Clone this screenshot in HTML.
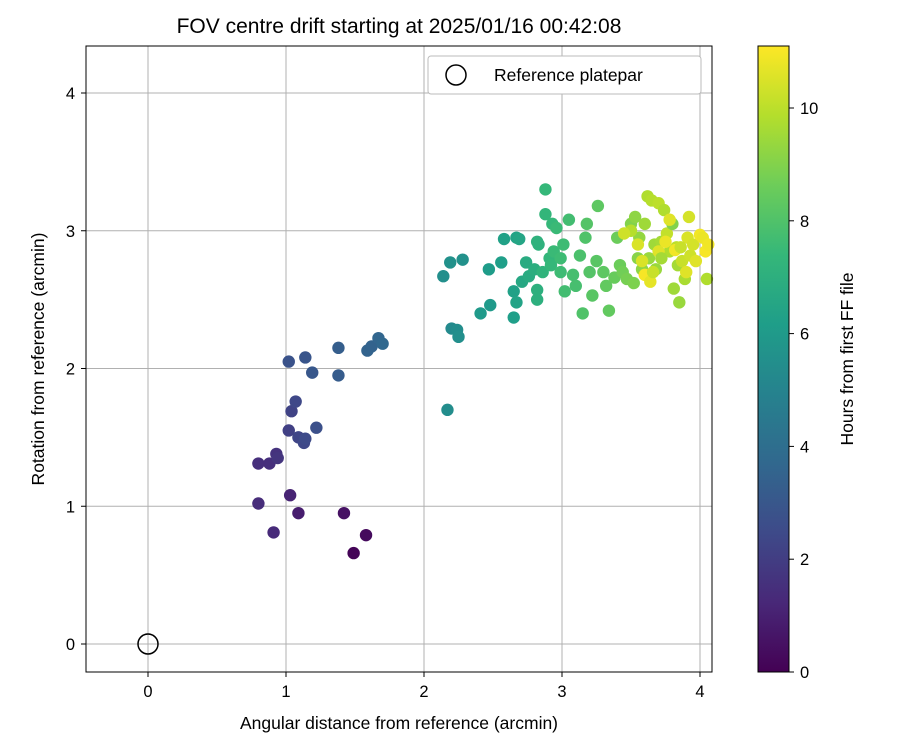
<!DOCTYPE html>
<html><head><meta charset="utf-8"><style>
body{margin:0;background:#fff;}
svg text{font-family:"Liberation Sans",sans-serif;fill:#000;}
</style></head><body>
<svg id="chart" width="900" height="750" xmlns="http://www.w3.org/2000/svg">
<rect width="900" height="750" fill="#fff"/>
<text x="399" y="33" font-size="21" text-anchor="middle">FOV centre drift starting at 2025/01/16 00:42:08</text>
<g id="grid"></g>
<g id="pts"></g>
<rect x="86" y="46" width="626" height="626" fill="none" stroke="#000" stroke-width="1"/>
<g id="ticks"></g>
<text x="399" y="729" font-size="17.5" text-anchor="middle">Angular distance from reference (arcmin)</text>
<text transform="translate(44,359) rotate(-90)" font-size="17.5" text-anchor="middle">Rotation from reference (arcmin)</text>
<g>
<rect x="428" y="56" width="273" height="38" rx="3" fill="#fff" stroke="#bbb"/>
<circle cx="456" cy="75" r="10" fill="none" stroke="#000" stroke-width="1.5"/>
<text x="494" y="81" font-size="17.5">Reference platepar</text>
</g>
<defs><linearGradient id="vir" x1="0" y1="1" x2="0" y2="0"></linearGradient></defs>
<rect x="758" y="46" width="31" height="626" fill="url(#vir)" stroke="#000"/>
<g id="cbticks"></g>
<text transform="translate(853,359) rotate(-90)" font-size="17.5" text-anchor="middle">Hours from first FF file</text>
</svg>
<script>
const xTicks=[0,1,2,3,4];
const yTicks=[0,1,2,3,4];
const cTicks=[0,2,4,6,8,10];
const xs=[1.49,1.58,1.42,1.09,1.03,0.91,0.80,0.80,0.88,0.93,0.94,1.04,1.07,1.02,1.09,1.13,1.14,1.22,1.02,1.14,1.19,1.38,1.38,1.59,1.62,1.67,1.70,
2.17,2.14,2.19,2.20,2.24,2.25,2.28,2.41,2.48,2.47,2.56,2.58,2.65,2.65,2.67,2.67,2.69,2.71,2.74,2.76,2.80,2.82,2.82,2.82,2.83,2.86,2.88,2.88,2.91,2.92,2.93,2.94,2.96,2.99,2.99,3.01,3.02,3.05,3.08,3.10,3.13,3.15,3.17,3.18,3.20,3.22,3.25,3.26,3.30,3.32,3.34,3.38,3.40,3.42,3.44,3.47,3.50,3.52,3.53,3.55,3.56,3.58,3.60,3.62,3.63,3.65,3.67,3.68,3.70,3.72,3.74,3.76,3.78,3.80,3.81,3.83,3.84,3.85,3.87,3.89,3.91,3.93,3.95,3.97,4.00,4.02,4.04,4.05,4.06,3.60,3.64,3.58,3.70,3.75,3.82,3.86,3.90,3.50,3.55,3.45,3.66,3.72,3.78,3.92];
const ys=[0.66,0.79,0.95,0.95,1.08,0.81,1.02,1.31,1.31,1.38,1.35,1.69,1.76,1.55,1.50,1.46,1.49,1.57,2.05,2.08,1.97,1.95,2.15,2.13,2.16,2.22,2.18,
1.70,2.67,2.77,2.29,2.28,2.23,2.79,2.40,2.46,2.72,2.77,2.94,2.56,2.37,2.48,2.95,2.94,2.63,2.77,2.67,2.72,2.50,2.57,2.92,2.90,2.70,3.30,3.12,2.80,2.75,3.05,2.85,3.02,2.80,2.70,2.90,2.56,3.08,2.68,2.60,2.82,2.40,2.95,3.05,2.70,2.53,2.78,3.18,2.70,2.60,2.42,2.66,2.95,2.75,2.70,2.65,3.05,2.62,3.10,2.80,2.95,2.72,3.05,3.25,2.80,3.22,2.90,2.72,3.20,2.92,3.15,2.98,2.85,3.05,2.58,2.88,2.75,2.48,2.78,2.65,2.95,2.82,2.90,2.78,2.97,2.95,2.85,2.65,2.90,2.68,2.63,2.78,2.85,2.92,2.86,2.88,2.70,3.00,2.90,2.98,2.70,2.80,3.08,3.10,2.96,2.86];
const hrs=[0.1,0.3,0.5,0.9,1.1,1.3,1.4,1.5,1.5,1.6,1.7,2.2,2.4,2.1,2.3,2.4,2.5,2.7,2.8,2.9,3.0,3.2,3.3,3.5,3.5,3.6,3.7,
5.4,5.5,5.6,5.3,5.4,5.5,5.6,6.0,6.0,6.1,6.2,6.3,6.3,6.2,6.4,6.4,6.5,6.6,6.8,6.8,6.9,7.0,7.0,7.1,7.1,7.2,7.4,7.3,7.3,7.4,7.4,7.5,7.5,7.6,7.6,7.6,7.7,7.7,7.8,7.8,7.9,8.0,8.0,8.1,8.1,8.2,8.2,8.3,8.3,8.4,8.4,8.5,8.6,8.6,8.7,8.8,9.0,8.9,9.2,9.1,9.3,9.2,9.5,9.8,9.4,9.9,9.5,9.4,10.0,9.6,9.8,10.1,9.8,9.0,9.5,10.0,9.6,9.4,10.2,9.7,10.5,10.3,10.4,10.6,10.9,10.8,11.0,9.8,10.9,11.0,10.7,10.5,10.6,10.8,10.9,10.2,10.6,9.9,10.5,10.3,10.2,9.6,10.6,10.4];
const X=v=>148+(v)*138, Y=v=>644-v*137.75, C=v=>672-v*56.4;
const vir=[[68,1,84],[72,40,120],[62,74,137],[49,104,142],[38,130,142],[31,158,137],[53,183,121],[109,205,89],[180,222,44],[253,231,37]];
function vcol(h){let t=Math.max(0,Math.min(1,h/11.1))*(vir.length-1);let i=Math.min(vir.length-2,Math.floor(t)),f=t-i;
return 'rgb('+vir[i].map((c,k)=>Math.round(c+(vir[i+1][k]-c)*f)).join(',')+')';}
const NS='http://www.w3.org/2000/svg';
function mk(p,tag,a){const e=document.createElementNS(NS,tag);for(const k in a)e.setAttribute(k,a[k]);p.appendChild(e);return e;}
const grid=document.getElementById('grid'),ticks=document.getElementById('ticks'),pts=document.getElementById('pts');
xTicks.forEach(v=>{const l=mk(grid,'line',{x1:X(v),x2:X(v),y1:46,y2:672,stroke:'#b0b0b0','stroke-width':1});

mk(ticks,'line',{x1:X(v),x2:X(v),y1:672,y2:677,stroke:'#000'});
const t=mk(ticks,'text',{x:X(v),y:697,'font-size':16.5,'text-anchor':'middle'});t.textContent=v;
});
yTicks.forEach(v=>{const l=mk(grid,'line',{x1:86,x2:712,y1:Y(v),y2:Y(v),stroke:'#b0b0b0','stroke-width':1});

mk(ticks,'line',{x1:81,x2:86,y1:Y(v),y2:Y(v),stroke:'#000'});
const t=mk(ticks,'text',{x:75,y:Y(v)+6,'font-size':16.5,'text-anchor':'end'});t.textContent=v;
});
const ref=mk(pts,'circle',{cx:X(0),cy:Y(0),r:10,fill:'none',stroke:'#000','stroke-width':1.5});

xs.forEach((x,i)=>{const c=mk(pts,'circle',{cx:X(x),cy:Y(ys[i]),r:6.2,fill:vcol(hrs[i])});
});
const g=document.getElementById('vir');vir.forEach((c,i)=>mk(g,'stop',{offset:i/(vir.length-1),'stop-color':'rgb('+c.join(',')+')'}));
const cb=document.getElementById('cbticks');
cTicks.forEach(v=>{mk(cb,'line',{x1:789,x2:794,y1:C(v),y2:C(v),stroke:'#000'});
const t=mk(cb,'text',{x:800,y:C(v)+6,'font-size':16.5});t.textContent=v;
});
</script>
</body></html>
